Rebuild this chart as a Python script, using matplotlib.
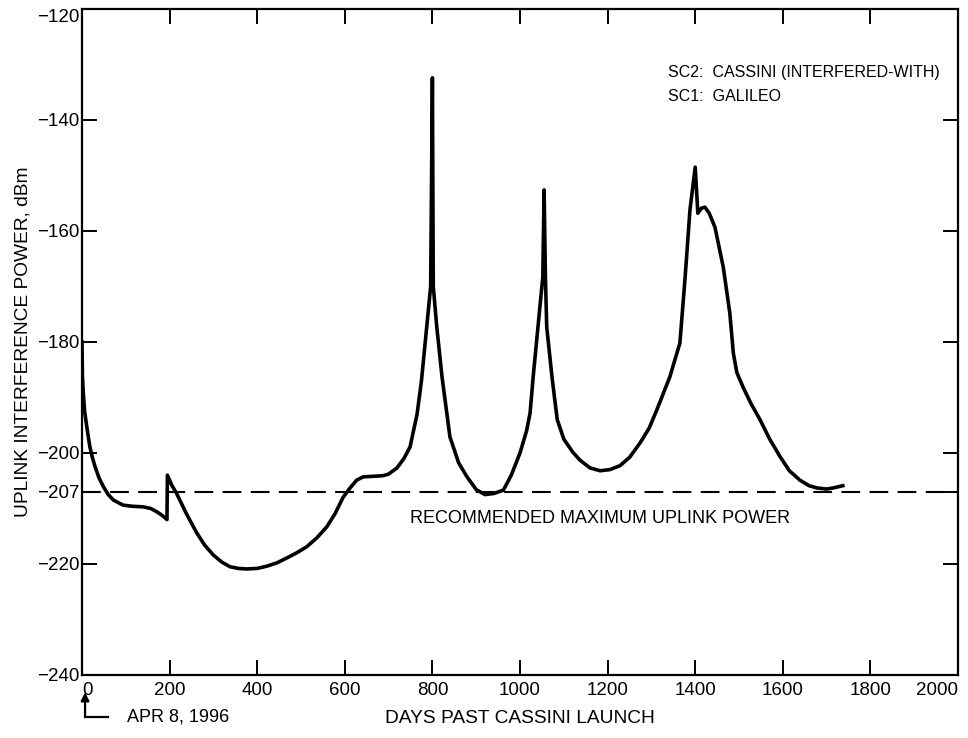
import matplotlib
matplotlib.use("Agg")
import matplotlib.pyplot as plt
import matplotlib.transforms as mtransforms

plt.rcParams["font.family"] = ["Liberation Sans", "DejaVu Sans"]

# values
DAYS = [0, 1, 3, 6, 11, 18, 24, 30, 39, 49, 60, 72, 94, 115, 139, 157, 171,
        184, 194, 195, 205, 216, 240, 262, 280, 300, 320, 338, 357, 376, 400,
        422, 445, 468, 490, 513, 536, 559, 578, 596, 610, 627, 642, 665, 687,
        700, 719, 735, 749, 765, 775, 787, 796, 800, 802, 810, 822, 840, 860,
        879, 900, 920, 940, 962, 980, 1000, 1015, 1023, 1030, 1041, 1052,
        1055, 1058, 1061, 1073, 1085, 1100, 1120, 1137, 1160, 1183, 1205,
        1228, 1250, 1274, 1295, 1312, 1342, 1365, 1377, 1388, 1400, 1406,
        1414, 1422, 1432, 1445, 1464, 1479, 1487, 1495, 1509, 1528, 1548,
        1570, 1594, 1615, 1639, 1660, 1678, 1700, 1715, 1737]
POWER_DBM = [-180.0, -186.0, -189.2, -192.5, -195.3, -198.9, -200.9, -202.5,
             -204.5, -206.1, -207.5, -208.5, -209.4, -209.6, -209.7, -210.0,
             -210.6, -211.3, -212.0, -204.0, -205.8, -207.3, -211.2, -214.4,
             -216.6, -218.4, -219.7, -220.5, -220.8, -220.9, -220.8, -220.4,
             -219.8, -218.9, -218.0, -216.9, -215.3, -213.3, -210.9, -208.0,
             -206.5, -204.9, -204.3, -204.2, -204.1, -203.8, -202.7, -201.0,
             -198.9, -193.0, -187.0, -177.3, -170.0, -132.4, -170.0, -177.3,
             -186.3, -197.1, -201.8, -204.3, -206.6, -207.5, -207.3, -206.7,
             -204.0, -200.0, -196.0, -192.8, -186.3, -177.3, -168.3, -152.6,
             -168.3, -177.3, -186.3, -194.0, -197.5, -199.8, -201.3, -202.7,
             -203.2, -203.0, -202.3, -200.8, -198.2, -195.5, -192.3, -186.3,
             -180.2, -168.3, -156.2, -148.5, -156.8, -155.9, -155.7, -156.8,
             -159.3, -166.5, -174.8, -182.0, -185.5, -188.1, -191.2, -194.0,
             -197.5, -200.7, -203.2, -204.9, -205.9, -206.3, -206.5, -206.3,
             -205.9]

MAX_UPLINK = -207
X_TICKS = list(range(0, 2001, 200))
Y_TICKS = [-240, -220, -207, -200, -180, -160, -140, -120]

FS = 13

fig = plt.figure(figsize=(9.68, 7.38), dpi=100)
ax = fig.add_axes([0.0847, 0.0854, 0.905, 0.9024])

ax.plot(DAYS, POWER_DBM, color="black", lw=2.6, solid_joinstyle="round")
ax.axhline(MAX_UPLINK, color="black", lw=1.5, dashes=(9, 4.5))

ax.set_xlim(0, 2000)
ax.set_ylim(-240, -120)
ax.set_xticks(X_TICKS)
ax.set_yticks(Y_TICKS)
ax.tick_params(direction="in", length=11, width=1.4, top=True, right=True,
               labelsize=13.5)
ax.tick_params(axis="y", pad=2)
ax.tick_params(axis="x", pad=5)
for sp in ax.spines.values():
    sp.set_linewidth(1.6)

# the scan is cropped tight: edge labels sit inside the frame
ax.get_xticklabels()[-1].set_ha("right")
ax.get_xticklabels()[0].set_ha("left")
ax.get_yticklabels()[-1].set_va("top")

ax.set_xlabel("DAYS PAST CASSINI LAUNCH", fontsize=13.8, labelpad=8)
ax.set_ylabel("UPLINK INTERFERENCE POWER, dBm", fontsize=13.8, labelpad=4)

ax.text(749, -211.8, "RECOMMENDED MAXIMUM UPLINK POWER", fontsize=FS,
        va="center", ha="left")
ax.text(1338, -131.4, "SC2:  CASSINI (INTERFERED-WITH)", fontsize=11.5,
        va="center", ha="left")
ax.text(1338, -135.7, "SC1:  GALILEO", fontsize=11.5, va="center", ha="left")

# launch date marker under the axis
trans = mtransforms.blended_transform_factory(ax.transData, fig.transFigure)
ax.annotate("", xy=(7, 0.062), xytext=(7, 0.029), xycoords=trans,
            textcoords=trans, annotation_clip=False,
            arrowprops=dict(arrowstyle="-|>", color="black", lw=1.6,
                            mutation_scale=12, shrinkA=0, shrinkB=0))
ax.plot([7, 59], [0.029, 0.029], transform=trans, color="black", lw=1.6,
        clip_on=False)
ax.text(103, 0.029, "APR 8, 1996", transform=trans, fontsize=FS,
        va="center", ha="left")

fig.savefig("out.png", dpi=100)
